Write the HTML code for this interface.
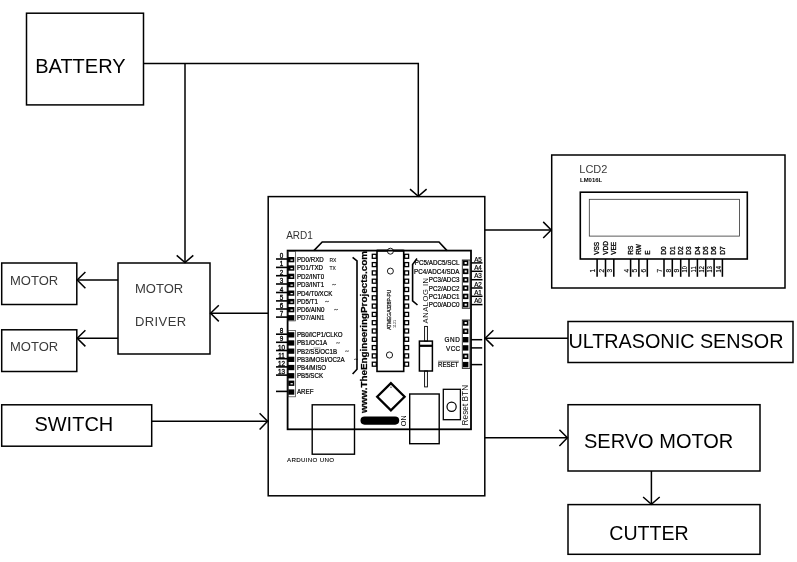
<!DOCTYPE html>
<html><head><meta charset="utf-8"><title>Block Diagram</title>
<style>
html,body{margin:0;padding:0;background:#fff;}
body{width:797px;height:562px;overflow:hidden;}
svg{display:block;font-family:"Liberation Sans",sans-serif;will-change:transform;}
</style></head><body>
<svg width="797" height="562" viewBox="0 0 797 562">
<rect width="797" height="562" fill="#fff"/>
<rect x="26.5" y="13.2" width="117.0" height="91.7" fill="none" stroke="#000" stroke-width="1.5"/>
<text x="35.2" y="73.2" font-size="20" fill="#000" font-weight="normal" text-anchor="start">BATTERY</text>
<rect x="118" y="263" width="92" height="91" fill="none" stroke="#000" stroke-width="1.5"/>
<text x="135" y="293" font-size="13" fill="#3a3a3a" font-weight="normal" text-anchor="start">MOTOR</text>
<text x="135" y="326.2" font-size="13" fill="#3a3a3a" font-weight="normal" text-anchor="start" letter-spacing="0.4">DRIVER</text>
<rect x="1.7" y="263" width="75.1" height="41.5" fill="none" stroke="#000" stroke-width="1.5"/>
<text x="10" y="284.6" font-size="13" fill="#3a3a3a" font-weight="normal" text-anchor="start">MOTOR</text>
<rect x="1.7" y="329.8" width="75.1" height="41.7" fill="none" stroke="#000" stroke-width="1.5"/>
<text x="10" y="351.4" font-size="13" fill="#3a3a3a" font-weight="normal" text-anchor="start">MOTOR</text>
<rect x="1.7" y="404.8" width="150.0" height="41.4" fill="none" stroke="#000" stroke-width="1.5"/>
<text x="34.4" y="431.3" font-size="20" fill="#000" font-weight="normal" text-anchor="start">SWITCH</text>
<rect x="268.2" y="196.6" width="216.6" height="299.2" fill="none" stroke="#000" stroke-width="1.5"/>
<rect x="551.7" y="155" width="233.3" height="133" fill="none" stroke="#000" stroke-width="1.5"/>
<rect x="568" y="321.5" width="225" height="41.0" fill="none" stroke="#000" stroke-width="1.5"/>
<text x="568.4" y="348.3" font-size="19.8" fill="#000" font-weight="normal" text-anchor="start">ULTRASONIC SENSOR</text>
<rect x="568" y="404.7" width="192" height="66.3" fill="none" stroke="#000" stroke-width="1.5"/>
<text x="584" y="448.2" font-size="20" fill="#000" font-weight="normal" text-anchor="start">SERVO MOTOR</text>
<rect x="568" y="504.6" width="192" height="49.7" fill="none" stroke="#000" stroke-width="1.5"/>
<text x="609.3" y="539.7" font-size="19.6" fill="#000" font-weight="normal" text-anchor="start">CUTTER</text>
<polyline points="143.5,63.4 418.3,63.4 418.3,196" fill="none" stroke="#000" stroke-width="1.5" stroke-linejoin="miter"/>
<polyline points="410.0,189.10000000000002 418.3,196.3 426.6,189.10000000000002" fill="none" stroke="#000" stroke-width="1.5" stroke-linejoin="miter"/>
<line x1="185" y1="63.4" x2="185" y2="262.5" stroke="#000" stroke-width="1.5" stroke-linecap="butt"/>
<polyline points="176.7,255.40000000000003 185,262.6 193.3,255.40000000000003" fill="none" stroke="#000" stroke-width="1.5" stroke-linejoin="miter"/>
<line x1="118" y1="280" x2="77.5" y2="280" stroke="#000" stroke-width="1.5" stroke-linecap="butt"/>
<polyline points="85.4,272.0 77.2,280 85.4,288.2" fill="none" stroke="#000" stroke-width="1.5" stroke-linejoin="miter"/>
<line x1="118" y1="338.2" x2="77.5" y2="338.2" stroke="#000" stroke-width="1.5" stroke-linecap="butt"/>
<polyline points="85.4,330.2 77.2,338.2 85.4,346.4" fill="none" stroke="#000" stroke-width="1.5" stroke-linejoin="miter"/>
<line x1="268" y1="313.2" x2="211" y2="313.2" stroke="#000" stroke-width="1.5" stroke-linecap="butt"/>
<polyline points="218.79999999999998,305.2 210.6,313.2 218.79999999999998,321.4" fill="none" stroke="#000" stroke-width="1.5" stroke-linejoin="miter"/>
<line x1="151.7" y1="421.3" x2="268" y2="421.3" stroke="#000" stroke-width="1.5" stroke-linecap="butt"/>
<polyline points="259.6,413.3 267.6,421.3 259.6,429.5" fill="none" stroke="#000" stroke-width="1.5" stroke-linejoin="miter"/>
<line x1="484.8" y1="229.9" x2="551" y2="229.9" stroke="#000" stroke-width="1.5" stroke-linecap="butt"/>
<polyline points="543.2,221.9 551.2,229.9 543.2,238.1" fill="none" stroke="#000" stroke-width="1.5" stroke-linejoin="miter"/>
<line x1="568" y1="338.2" x2="485.5" y2="338.2" stroke="#000" stroke-width="1.5" stroke-linecap="butt"/>
<polyline points="493.4,330.2 485.2,338.2 493.4,346.4" fill="none" stroke="#000" stroke-width="1.5" stroke-linejoin="miter"/>
<line x1="484.8" y1="437.8" x2="567" y2="437.8" stroke="#000" stroke-width="1.5" stroke-linecap="butt"/>
<polyline points="559.4,429.8 567.4,437.8 559.4,446.0" fill="none" stroke="#000" stroke-width="1.5" stroke-linejoin="miter"/>
<line x1="651.4" y1="471" x2="651.4" y2="504" stroke="#000" stroke-width="1.5" stroke-linecap="butt"/>
<polyline points="643.1,497.0 651.4,504.2 659.6999999999999,497.0" fill="none" stroke="#000" stroke-width="1.5" stroke-linejoin="miter"/>
<text x="579.3" y="172.9" font-size="11" fill="#3a3a3a" font-weight="normal" text-anchor="start">LCD2</text>
<text x="580" y="182" font-size="6.2" fill="#000" font-weight="bold" text-anchor="start" textLength="22.2" lengthAdjust="spacingAndGlyphs">LM016L</text>
<rect x="580.3" y="192.2" width="167.0" height="66.8" fill="none" stroke="#000" stroke-width="1.6"/>
<rect x="589.3" y="199.3" width="150.3" height="36.8" fill="none" stroke="#333" stroke-width="0.8"/>
<line x1="597.1" y1="259" x2="597.1" y2="276.8" stroke="#000" stroke-width="1.55" stroke-linecap="butt"/>
<text x="599.5" y="254.8" font-size="6.5" fill="#000" font-weight="normal" text-anchor="start" transform="rotate(-90 599.5 254.8)" stroke="#000" stroke-width="0.3">VSS</text>
<text x="595.4" y="272.4" font-size="6.5" fill="#000" font-weight="normal" text-anchor="start" transform="rotate(-90 595.4 272.4)" stroke="#000" stroke-width="0.15">1</text>
<line x1="605.5" y1="259" x2="605.5" y2="276.8" stroke="#000" stroke-width="1.55" stroke-linecap="butt"/>
<text x="607.9" y="254.8" font-size="6.5" fill="#000" font-weight="normal" text-anchor="start" transform="rotate(-90 607.9 254.8)" stroke="#000" stroke-width="0.3">VDD</text>
<text x="603.8" y="272.4" font-size="6.5" fill="#000" font-weight="normal" text-anchor="start" transform="rotate(-90 603.8 272.4)" stroke="#000" stroke-width="0.15">2</text>
<line x1="613.8" y1="259" x2="613.8" y2="276.8" stroke="#000" stroke-width="1.55" stroke-linecap="butt"/>
<text x="616.1999999999999" y="254.8" font-size="6.5" fill="#000" font-weight="normal" text-anchor="start" transform="rotate(-90 616.1999999999999 254.8)" stroke="#000" stroke-width="0.3">VEE</text>
<text x="612.0999999999999" y="272.4" font-size="6.5" fill="#000" font-weight="normal" text-anchor="start" transform="rotate(-90 612.0999999999999 272.4)" stroke="#000" stroke-width="0.15">3</text>
<line x1="630.6" y1="259" x2="630.6" y2="276.8" stroke="#000" stroke-width="1.55" stroke-linecap="butt"/>
<text x="633.0" y="254.8" font-size="6.5" fill="#000" font-weight="normal" text-anchor="start" transform="rotate(-90 633.0 254.8)" stroke="#000" stroke-width="0.3">RS</text>
<text x="628.9" y="272.4" font-size="6.5" fill="#000" font-weight="normal" text-anchor="start" transform="rotate(-90 628.9 272.4)" stroke="#000" stroke-width="0.15">4</text>
<line x1="638.9" y1="259" x2="638.9" y2="276.8" stroke="#000" stroke-width="1.55" stroke-linecap="butt"/>
<text x="641.3" y="254.8" font-size="6.5" fill="#000" font-weight="normal" text-anchor="start" transform="rotate(-90 641.3 254.8)" stroke="#000" stroke-width="0.3">RW</text>
<text x="637.1999999999999" y="272.4" font-size="6.5" fill="#000" font-weight="normal" text-anchor="start" transform="rotate(-90 637.1999999999999 272.4)" stroke="#000" stroke-width="0.15">5</text>
<line x1="647.3" y1="259" x2="647.3" y2="276.8" stroke="#000" stroke-width="1.55" stroke-linecap="butt"/>
<text x="649.6999999999999" y="254.8" font-size="6.5" fill="#000" font-weight="normal" text-anchor="start" transform="rotate(-90 649.6999999999999 254.8)" stroke="#000" stroke-width="0.3">E</text>
<text x="645.5999999999999" y="272.4" font-size="6.5" fill="#000" font-weight="normal" text-anchor="start" transform="rotate(-90 645.5999999999999 272.4)" stroke="#000" stroke-width="0.15">6</text>
<line x1="664" y1="259" x2="664" y2="276.8" stroke="#000" stroke-width="1.55" stroke-linecap="butt"/>
<text x="666.4" y="254.8" font-size="6.5" fill="#000" font-weight="normal" text-anchor="start" transform="rotate(-90 666.4 254.8)" stroke="#000" stroke-width="0.3">D0</text>
<text x="662.3" y="272.4" font-size="6.5" fill="#000" font-weight="normal" text-anchor="start" transform="rotate(-90 662.3 272.4)" stroke="#000" stroke-width="0.15">7</text>
<line x1="672.3" y1="259" x2="672.3" y2="276.8" stroke="#000" stroke-width="1.55" stroke-linecap="butt"/>
<text x="674.6999999999999" y="254.8" font-size="6.5" fill="#000" font-weight="normal" text-anchor="start" transform="rotate(-90 674.6999999999999 254.8)" stroke="#000" stroke-width="0.3">D1</text>
<text x="670.5999999999999" y="272.4" font-size="6.5" fill="#000" font-weight="normal" text-anchor="start" transform="rotate(-90 670.5999999999999 272.4)" stroke="#000" stroke-width="0.15">8</text>
<line x1="680.7" y1="259" x2="680.7" y2="276.8" stroke="#000" stroke-width="1.55" stroke-linecap="butt"/>
<text x="683.1" y="254.8" font-size="6.5" fill="#000" font-weight="normal" text-anchor="start" transform="rotate(-90 683.1 254.8)" stroke="#000" stroke-width="0.3">D2</text>
<text x="679.0" y="272.4" font-size="6.5" fill="#000" font-weight="normal" text-anchor="start" transform="rotate(-90 679.0 272.4)" stroke="#000" stroke-width="0.15">9</text>
<line x1="689" y1="259" x2="689" y2="276.8" stroke="#000" stroke-width="1.55" stroke-linecap="butt"/>
<text x="691.4" y="254.8" font-size="6.5" fill="#000" font-weight="normal" text-anchor="start" transform="rotate(-90 691.4 254.8)" stroke="#000" stroke-width="0.3">D3</text>
<text x="687.3" y="272.4" font-size="6.5" fill="#000" font-weight="normal" text-anchor="start" transform="rotate(-90 687.3 272.4)" stroke="#000" stroke-width="0.15" textLength="6.2" lengthAdjust="spacingAndGlyphs">10</text>
<line x1="697.4" y1="259" x2="697.4" y2="276.8" stroke="#000" stroke-width="1.55" stroke-linecap="butt"/>
<text x="699.8" y="254.8" font-size="6.5" fill="#000" font-weight="normal" text-anchor="start" transform="rotate(-90 699.8 254.8)" stroke="#000" stroke-width="0.3">D4</text>
<text x="695.6999999999999" y="272.4" font-size="6.5" fill="#000" font-weight="normal" text-anchor="start" transform="rotate(-90 695.6999999999999 272.4)" stroke="#000" stroke-width="0.15" textLength="6.2" lengthAdjust="spacingAndGlyphs">11</text>
<line x1="705.7" y1="259" x2="705.7" y2="276.8" stroke="#000" stroke-width="1.55" stroke-linecap="butt"/>
<text x="708.1" y="254.8" font-size="6.5" fill="#000" font-weight="normal" text-anchor="start" transform="rotate(-90 708.1 254.8)" stroke="#000" stroke-width="0.3">D5</text>
<text x="704.0" y="272.4" font-size="6.5" fill="#000" font-weight="normal" text-anchor="start" transform="rotate(-90 704.0 272.4)" stroke="#000" stroke-width="0.15" textLength="6.2" lengthAdjust="spacingAndGlyphs">12</text>
<line x1="714.1" y1="259" x2="714.1" y2="276.8" stroke="#000" stroke-width="1.55" stroke-linecap="butt"/>
<text x="716.5" y="254.8" font-size="6.5" fill="#000" font-weight="normal" text-anchor="start" transform="rotate(-90 716.5 254.8)" stroke="#000" stroke-width="0.3">D6</text>
<text x="712.4" y="272.4" font-size="6.5" fill="#000" font-weight="normal" text-anchor="start" transform="rotate(-90 712.4 272.4)" stroke="#000" stroke-width="0.15" textLength="6.2" lengthAdjust="spacingAndGlyphs">13</text>
<line x1="722.4" y1="259" x2="722.4" y2="276.8" stroke="#000" stroke-width="1.55" stroke-linecap="butt"/>
<text x="724.8" y="254.8" font-size="6.5" fill="#000" font-weight="normal" text-anchor="start" transform="rotate(-90 724.8 254.8)" stroke="#000" stroke-width="0.3">D7</text>
<text x="720.6999999999999" y="272.4" font-size="6.5" fill="#000" font-weight="normal" text-anchor="start" transform="rotate(-90 720.6999999999999 272.4)" stroke="#000" stroke-width="0.15" textLength="6.2" lengthAdjust="spacingAndGlyphs">14</text>
<text x="286.2" y="239" font-size="10" fill="#333" font-weight="normal" text-anchor="start">ARD1</text>
<rect x="287.6" y="250.6" width="183.4" height="178.7" fill="none" stroke="#000" stroke-width="1.8"/>
<polyline points="313.9,250.6 322.2,242 439,242 447,250.6" fill="none" stroke="#000" stroke-width="1.6" stroke-linejoin="miter"/>
<rect x="288" y="251.5" width="7.6" height="69.4" fill="none" stroke="#333" stroke-width="0.7"/>
<rect x="288" y="330.6" width="7.6" height="66.2" fill="none" stroke="#333" stroke-width="0.7"/>
<line x1="276" y1="259.0" x2="287.6" y2="259.0" stroke="#000" stroke-width="1.6" stroke-linecap="butt"/>
<rect x="287.6" y="257.0" width="6.7" height="5.3" fill="#000" stroke="#000" stroke-width="0"/>
<rect x="290.5" y="259.5" width="2.3" height="1.3" fill="#eee" stroke="#000" stroke-width="0"/>
<text x="281.6" y="258.0" font-size="6.3" fill="#000" font-weight="normal" text-anchor="middle" stroke="#000" stroke-width="0.3">0</text>
<text transform="translate(297 262.0) scale(0.87 1)" font-size="7.1" fill="#000" font-weight="normal" text-anchor="start" stroke="#000" stroke-width="0.22">PD0/RXD</text>
<line x1="276" y1="267.4" x2="287.6" y2="267.4" stroke="#000" stroke-width="1.6" stroke-linecap="butt"/>
<rect x="287.6" y="265.4" width="6.7" height="5.3" fill="#000" stroke="#000" stroke-width="0"/>
<rect x="290.5" y="267.9" width="2.3" height="1.3" fill="#eee" stroke="#000" stroke-width="0"/>
<text x="281.6" y="266.4" font-size="6.3" fill="#000" font-weight="normal" text-anchor="middle" stroke="#000" stroke-width="0.3">1</text>
<text transform="translate(297 270.4) scale(0.87 1)" font-size="7.1" fill="#000" font-weight="normal" text-anchor="start" stroke="#000" stroke-width="0.22">PD1/TXD</text>
<line x1="276" y1="275.7" x2="287.6" y2="275.7" stroke="#000" stroke-width="1.6" stroke-linecap="butt"/>
<rect x="287.6" y="273.7" width="6.7" height="5.3" fill="#000" stroke="#000" stroke-width="0"/>
<rect x="290.5" y="276.2" width="2.3" height="1.3" fill="#eee" stroke="#000" stroke-width="0"/>
<text x="281.6" y="274.7" font-size="6.3" fill="#000" font-weight="normal" text-anchor="middle" stroke="#000" stroke-width="0.3">2</text>
<text transform="translate(297 278.7) scale(0.87 1)" font-size="7.1" fill="#000" font-weight="normal" text-anchor="start" stroke="#000" stroke-width="0.22">PD2/INT0</text>
<line x1="276" y1="284.0" x2="287.6" y2="284.0" stroke="#000" stroke-width="1.6" stroke-linecap="butt"/>
<rect x="287.6" y="282.0" width="6.7" height="5.3" fill="#000" stroke="#000" stroke-width="0"/>
<rect x="290.5" y="284.5" width="2.3" height="1.3" fill="#eee" stroke="#000" stroke-width="0"/>
<text x="281.6" y="283.0" font-size="6.3" fill="#000" font-weight="normal" text-anchor="middle" stroke="#000" stroke-width="0.3">3</text>
<text transform="translate(297 287.0) scale(0.87 1)" font-size="7.1" fill="#000" font-weight="normal" text-anchor="start" stroke="#000" stroke-width="0.22">PD3/INT1</text>
<line x1="276" y1="292.5" x2="287.6" y2="292.5" stroke="#000" stroke-width="1.6" stroke-linecap="butt"/>
<rect x="287.6" y="290.5" width="6.7" height="5.3" fill="#000" stroke="#000" stroke-width="0"/>
<rect x="290.5" y="293.0" width="2.3" height="1.3" fill="#eee" stroke="#000" stroke-width="0"/>
<text x="281.6" y="291.5" font-size="6.3" fill="#000" font-weight="normal" text-anchor="middle" stroke="#000" stroke-width="0.3">4</text>
<text transform="translate(297 295.5) scale(0.87 1)" font-size="7.1" fill="#000" font-weight="normal" text-anchor="start" stroke="#000" stroke-width="0.22">PD4/T0/XCK</text>
<line x1="276" y1="300.9" x2="287.6" y2="300.9" stroke="#000" stroke-width="1.6" stroke-linecap="butt"/>
<rect x="287.6" y="298.9" width="6.7" height="5.3" fill="#000" stroke="#000" stroke-width="0"/>
<rect x="290.5" y="301.4" width="2.3" height="1.3" fill="#eee" stroke="#000" stroke-width="0"/>
<text x="281.6" y="299.9" font-size="6.3" fill="#000" font-weight="normal" text-anchor="middle" stroke="#000" stroke-width="0.3">5</text>
<text transform="translate(297 303.9) scale(0.87 1)" font-size="7.1" fill="#000" font-weight="normal" text-anchor="start" stroke="#000" stroke-width="0.22">PD5/T1</text>
<line x1="276" y1="309.0" x2="287.6" y2="309.0" stroke="#000" stroke-width="1.6" stroke-linecap="butt"/>
<rect x="287.6" y="307.0" width="6.7" height="5.3" fill="#000" stroke="#000" stroke-width="0"/>
<rect x="290.5" y="309.5" width="2.3" height="1.3" fill="#eee" stroke="#000" stroke-width="0"/>
<text x="281.6" y="308.0" font-size="6.3" fill="#000" font-weight="normal" text-anchor="middle" stroke="#000" stroke-width="0.3">6</text>
<text transform="translate(297 312.0) scale(0.87 1)" font-size="7.1" fill="#000" font-weight="normal" text-anchor="start" stroke="#000" stroke-width="0.22">PD6/AIN0</text>
<line x1="276" y1="317.09999999999997" x2="287.6" y2="317.09999999999997" stroke="#000" stroke-width="1.6" stroke-linecap="butt"/>
<rect x="287.6" y="315.09999999999997" width="6.7" height="5.3" fill="#000" stroke="#000" stroke-width="0"/>
<text x="281.6" y="316.09999999999997" font-size="6.3" fill="#000" font-weight="normal" text-anchor="middle" stroke="#000" stroke-width="0.3">7</text>
<text transform="translate(297 320.09999999999997) scale(0.87 1)" font-size="7.1" fill="#000" font-weight="normal" text-anchor="start" stroke="#000" stroke-width="0.22">PD7/AIN1</text>
<line x1="276" y1="334.2" x2="287.6" y2="334.2" stroke="#000" stroke-width="1.6" stroke-linecap="butt"/>
<rect x="287.6" y="332.2" width="6.7" height="5.3" fill="#000" stroke="#000" stroke-width="0"/>
<text x="281.6" y="333.2" font-size="6.3" fill="#000" font-weight="normal" text-anchor="middle" stroke="#000" stroke-width="0.3">8</text>
<text transform="translate(297 337.2) scale(0.87 1)" font-size="7.1" fill="#000" font-weight="normal" text-anchor="start" stroke="#000" stroke-width="0.22">PB0/ICP1/CLKO</text>
<line x1="276" y1="342.29999999999995" x2="287.6" y2="342.29999999999995" stroke="#000" stroke-width="1.6" stroke-linecap="butt"/>
<rect x="287.6" y="340.29999999999995" width="6.7" height="5.3" fill="#000" stroke="#000" stroke-width="0"/>
<text x="281.6" y="341.29999999999995" font-size="6.3" fill="#000" font-weight="normal" text-anchor="middle" stroke="#000" stroke-width="0.3">9</text>
<text transform="translate(297 345.29999999999995) scale(0.87 1)" font-size="7.1" fill="#000" font-weight="normal" text-anchor="start" stroke="#000" stroke-width="0.22">PB1/OC1A</text>
<line x1="276" y1="350.5" x2="287.6" y2="350.5" stroke="#000" stroke-width="1.6" stroke-linecap="butt"/>
<rect x="287.6" y="348.5" width="6.7" height="5.3" fill="#000" stroke="#000" stroke-width="0"/>
<text x="281.6" y="349.5" font-size="6.3" fill="#000" font-weight="normal" text-anchor="middle" stroke="#000" stroke-width="0.3">10</text>
<text transform="translate(297 353.5) scale(0.87 1)" font-size="7.1" fill="#000" font-weight="normal" text-anchor="start" stroke="#000" stroke-width="0.22">PB2/SS/OC1B</text>
<line x1="276" y1="358.7" x2="287.6" y2="358.7" stroke="#000" stroke-width="1.6" stroke-linecap="butt"/>
<rect x="287.6" y="356.7" width="6.7" height="5.3" fill="#000" stroke="#000" stroke-width="0"/>
<text x="281.6" y="357.7" font-size="6.3" fill="#000" font-weight="normal" text-anchor="middle" stroke="#000" stroke-width="0.3">11</text>
<text transform="translate(297 361.7) scale(0.87 1)" font-size="7.1" fill="#000" font-weight="normal" text-anchor="start" stroke="#000" stroke-width="0.22">PB3/MOSI/OC2A</text>
<line x1="276" y1="366.9" x2="287.6" y2="366.9" stroke="#000" stroke-width="1.6" stroke-linecap="butt"/>
<rect x="287.6" y="364.9" width="6.7" height="5.3" fill="#000" stroke="#000" stroke-width="0"/>
<text x="281.6" y="365.9" font-size="6.3" fill="#000" font-weight="normal" text-anchor="middle" stroke="#000" stroke-width="0.3">12</text>
<text transform="translate(297 369.9) scale(0.87 1)" font-size="7.1" fill="#000" font-weight="normal" text-anchor="start" stroke="#000" stroke-width="0.22">PB4/MISO</text>
<line x1="276" y1="375.09999999999997" x2="287.6" y2="375.09999999999997" stroke="#000" stroke-width="1.6" stroke-linecap="butt"/>
<rect x="287.6" y="373.09999999999997" width="6.7" height="5.3" fill="#000" stroke="#000" stroke-width="0"/>
<text x="281.6" y="374.09999999999997" font-size="6.3" fill="#000" font-weight="normal" text-anchor="middle" stroke="#000" stroke-width="0.3">13</text>
<text transform="translate(297 378.09999999999997) scale(0.87 1)" font-size="7.1" fill="#000" font-weight="normal" text-anchor="start" stroke="#000" stroke-width="0.22">PB5/SCK</text>
<path d="M332 285.20000000000005 q1 -1.6 2 -0.6 t2 -0.6" fill="none" stroke="#222" stroke-width="0.7"/>
<path d="M325 302.1 q1 -1.6 2 -0.6 t2 -0.6" fill="none" stroke="#222" stroke-width="0.7"/>
<path d="M334 310.20000000000005 q1 -1.6 2 -0.6 t2 -0.6" fill="none" stroke="#222" stroke-width="0.7"/>
<path d="M336 343.5 q1 -1.6 2 -0.6 t2 -0.6" fill="none" stroke="#222" stroke-width="0.7"/>
<path d="M345 351.70000000000005 q1 -1.6 2 -0.6 t2 -0.6" fill="none" stroke="#222" stroke-width="0.7"/>
<path d="M354 359.90000000000003 q1 -1.6 2 -0.6 t2 -0.6" fill="none" stroke="#222" stroke-width="0.7"/>
<text x="329.5" y="261.8" font-size="5" fill="#333" font-weight="bold" text-anchor="start">RX</text>
<text x="329.5" y="270.2" font-size="5" fill="#333" font-weight="bold" text-anchor="start">TX</text>
<line x1="313.5" y1="348" x2="320.5" y2="348" stroke="#333" stroke-width="0.5" stroke-linecap="butt"/>
<rect x="288.3" y="380.59999999999997" width="6.0" height="5.3" fill="#000" stroke="#000" stroke-width="0"/>
<rect x="290.5" y="383.1" width="2.3" height="1.3" fill="#eee" stroke="#000" stroke-width="0"/>
<line x1="276" y1="391.4" x2="287.6" y2="391.4" stroke="#000" stroke-width="1.6" stroke-linecap="butt"/>
<rect x="288.3" y="389.4" width="6.0" height="5.3" fill="#000" stroke="#000" stroke-width="0"/>
<text transform="translate(297 394.4) scale(0.87 1)" font-size="7.1" fill="#000" font-weight="normal" text-anchor="start" stroke="#000" stroke-width="0.22">AREF</text>
<polyline points="352.6,257.3 357,260.9 357,369.2 352.6,374" fill="none" stroke="#000" stroke-width="1.6" stroke-linejoin="miter"/>
<text x="367.3" y="413" font-size="9.3" fill="#000" font-weight="bold" text-anchor="start" transform="rotate(-90 367.3 413)" textLength="162" lengthAdjust="spacingAndGlyphs" stroke="#000" stroke-width="0.25">www.TheEngineeringProjects.com</text>
<rect x="377" y="250.6" width="26.7" height="120.8" fill="none" stroke="#000" stroke-width="1.6"/>
<circle cx="390.4" cy="251.2" r="3" fill="#fff" stroke="#000" stroke-width="0.9"/>
<line x1="377" y1="250.6" x2="403.7" y2="250.6" stroke="#000" stroke-width="1.8" stroke-linecap="butt"/>
<circle cx="390.4" cy="271.1" r="3" fill="#fff" stroke="#000" stroke-width="0.9"/>
<circle cx="389.5" cy="355" r="3.1" fill="#fff" stroke="#000" stroke-width="0.9"/>
<rect x="372.3" y="254.3" width="4.0" height="4.0" fill="none" stroke="#000" stroke-width="1.3"/>
<rect x="404.6" y="254.3" width="4.0" height="4.0" fill="none" stroke="#000" stroke-width="1.3"/>
<rect x="372.3" y="262.6" width="4.0" height="4.0" fill="none" stroke="#000" stroke-width="1.3"/>
<rect x="404.6" y="262.6" width="4.0" height="4.0" fill="none" stroke="#000" stroke-width="1.3"/>
<rect x="372.3" y="270.90000000000003" width="4.0" height="4.0" fill="none" stroke="#000" stroke-width="1.3"/>
<rect x="404.6" y="270.90000000000003" width="4.0" height="4.0" fill="none" stroke="#000" stroke-width="1.3"/>
<rect x="372.3" y="279.2" width="4.0" height="4.0" fill="none" stroke="#000" stroke-width="1.3"/>
<rect x="404.6" y="279.2" width="4.0" height="4.0" fill="none" stroke="#000" stroke-width="1.3"/>
<rect x="372.3" y="287.5" width="4.0" height="4.0" fill="none" stroke="#000" stroke-width="1.3"/>
<rect x="404.6" y="287.5" width="4.0" height="4.0" fill="none" stroke="#000" stroke-width="1.3"/>
<rect x="372.3" y="295.8" width="4.0" height="4.0" fill="none" stroke="#000" stroke-width="1.3"/>
<rect x="404.6" y="295.8" width="4.0" height="4.0" fill="none" stroke="#000" stroke-width="1.3"/>
<rect x="372.3" y="304.1" width="4.0" height="4.0" fill="none" stroke="#000" stroke-width="1.3"/>
<rect x="404.6" y="304.1" width="4.0" height="4.0" fill="none" stroke="#000" stroke-width="1.3"/>
<rect x="372.3" y="312.40000000000003" width="4.0" height="4.0" fill="none" stroke="#000" stroke-width="1.3"/>
<rect x="404.6" y="312.40000000000003" width="4.0" height="4.0" fill="none" stroke="#000" stroke-width="1.3"/>
<rect x="372.3" y="320.70000000000005" width="4.0" height="4.0" fill="none" stroke="#000" stroke-width="1.3"/>
<rect x="404.6" y="320.70000000000005" width="4.0" height="4.0" fill="none" stroke="#000" stroke-width="1.3"/>
<rect x="372.3" y="329.0" width="4.0" height="4.0" fill="none" stroke="#000" stroke-width="1.3"/>
<rect x="404.6" y="329.0" width="4.0" height="4.0" fill="none" stroke="#000" stroke-width="1.3"/>
<rect x="372.3" y="337.3" width="4.0" height="4.0" fill="none" stroke="#000" stroke-width="1.3"/>
<rect x="404.6" y="337.3" width="4.0" height="4.0" fill="none" stroke="#000" stroke-width="1.3"/>
<rect x="372.3" y="345.6" width="4.0" height="4.0" fill="none" stroke="#000" stroke-width="1.3"/>
<rect x="404.6" y="345.6" width="4.0" height="4.0" fill="none" stroke="#000" stroke-width="1.3"/>
<rect x="372.3" y="353.90000000000003" width="4.0" height="4.0" fill="none" stroke="#000" stroke-width="1.3"/>
<rect x="404.6" y="353.90000000000003" width="4.0" height="4.0" fill="none" stroke="#000" stroke-width="1.3"/>
<rect x="372.3" y="362.20000000000005" width="4.0" height="4.0" fill="none" stroke="#000" stroke-width="1.3"/>
<rect x="404.6" y="362.20000000000005" width="4.0" height="4.0" fill="none" stroke="#000" stroke-width="1.3"/>
<text x="390.6" y="329.8" font-size="4.8" fill="#111" font-weight="normal" text-anchor="start" transform="rotate(-90 390.6 329.8)" textLength="40" lengthAdjust="spacingAndGlyphs" stroke="#111" stroke-width="0.2">ATMEGA328P-PU</text>
<text x="395.6" y="328" font-size="3.8" fill="#222" font-weight="normal" text-anchor="start" transform="rotate(-90 395.6 328)">1121</text>
<rect x="462.3" y="260" width="7.7" height="48.3" fill="none" stroke="#222" stroke-width="0.9"/>
<line x1="471.0" y1="262.9" x2="482.5" y2="262.9" stroke="#000" stroke-width="1.5" stroke-linecap="butt"/>
<rect x="462.9" y="260.3" width="5.5" height="5.4" fill="#000" stroke="#000" stroke-width="0"/>
<rect x="464.6" y="262" width="2.2" height="2" fill="#f4f4f4" stroke="#000" stroke-width="0"/>
<text x="478" y="261.6" font-size="6.3" fill="#000" font-weight="normal" text-anchor="middle" stroke="#000" stroke-width="0.2">A5</text>
<text transform="translate(459.4 265.4) scale(0.885 1)" font-size="7.1" fill="#000" font-weight="normal" text-anchor="end" stroke="#000" stroke-width="0.22">PC5/ADC5/SCL</text>
<line x1="471.0" y1="271.29999999999995" x2="482.5" y2="271.29999999999995" stroke="#000" stroke-width="1.5" stroke-linecap="butt"/>
<rect x="462.9" y="268.7" width="5.5" height="5.4" fill="#000" stroke="#000" stroke-width="0"/>
<rect x="464.6" y="270.4" width="2.2" height="2.0" fill="#f4f4f4" stroke="#000" stroke-width="0"/>
<text x="478" y="270.0" font-size="6.3" fill="#000" font-weight="normal" text-anchor="middle" stroke="#000" stroke-width="0.2">A4</text>
<text transform="translate(459.4 273.79999999999995) scale(0.885 1)" font-size="7.1" fill="#000" font-weight="normal" text-anchor="end" stroke="#000" stroke-width="0.22">PC4/ADC4/SDA</text>
<line x1="471.0" y1="279.7" x2="482.5" y2="279.7" stroke="#000" stroke-width="1.5" stroke-linecap="butt"/>
<rect x="462.9" y="277.1" width="5.5" height="5.4" fill="#000" stroke="#000" stroke-width="0"/>
<rect x="464.6" y="278.8" width="2.2" height="2.0" fill="#f4f4f4" stroke="#000" stroke-width="0"/>
<text x="478" y="278.40000000000003" font-size="6.3" fill="#000" font-weight="normal" text-anchor="middle" stroke="#000" stroke-width="0.2">A3</text>
<text transform="translate(459.4 282.2) scale(0.885 1)" font-size="7.1" fill="#000" font-weight="normal" text-anchor="end" stroke="#000" stroke-width="0.22">PC3/ADC3</text>
<line x1="471.0" y1="288.0" x2="482.5" y2="288.0" stroke="#000" stroke-width="1.5" stroke-linecap="butt"/>
<rect x="462.9" y="285.40000000000003" width="5.5" height="5.4" fill="#000" stroke="#000" stroke-width="0"/>
<rect x="464.6" y="287.1" width="2.2" height="2.0" fill="#f4f4f4" stroke="#000" stroke-width="0"/>
<text x="478" y="286.70000000000005" font-size="6.3" fill="#000" font-weight="normal" text-anchor="middle" stroke="#000" stroke-width="0.2">A2</text>
<text transform="translate(459.4 290.5) scale(0.885 1)" font-size="7.1" fill="#000" font-weight="normal" text-anchor="end" stroke="#000" stroke-width="0.22">PC2/ADC2</text>
<line x1="471.0" y1="296.29999999999995" x2="482.5" y2="296.29999999999995" stroke="#000" stroke-width="1.5" stroke-linecap="butt"/>
<rect x="462.9" y="293.7" width="5.5" height="5.4" fill="#000" stroke="#000" stroke-width="0"/>
<rect x="464.6" y="295.4" width="2.2" height="2.0" fill="#f4f4f4" stroke="#000" stroke-width="0"/>
<text x="478" y="295.0" font-size="6.3" fill="#000" font-weight="normal" text-anchor="middle" stroke="#000" stroke-width="0.2">A1</text>
<text transform="translate(459.4 298.79999999999995) scale(0.885 1)" font-size="7.1" fill="#000" font-weight="normal" text-anchor="end" stroke="#000" stroke-width="0.22">PC1/ADC1</text>
<line x1="471.0" y1="304.59999999999997" x2="482.5" y2="304.59999999999997" stroke="#000" stroke-width="1.5" stroke-linecap="butt"/>
<rect x="462.9" y="302.0" width="5.5" height="5.4" fill="#000" stroke="#000" stroke-width="0"/>
<rect x="464.6" y="303.7" width="2.2" height="2.0" fill="#f4f4f4" stroke="#000" stroke-width="0"/>
<text x="478" y="303.3" font-size="6.3" fill="#000" font-weight="normal" text-anchor="middle" stroke="#000" stroke-width="0.2">A0</text>
<text transform="translate(459.4 307.09999999999997) scale(0.885 1)" font-size="7.1" fill="#000" font-weight="normal" text-anchor="end" stroke="#000" stroke-width="0.22">PC0/ADC0</text>
<polyline points="417,258.6 412.6,264.4 412.6,300.8 417.5,305" fill="none" stroke="#000" stroke-width="1.6" stroke-linejoin="miter"/>
<text x="427.9" y="323.4" font-size="7.6" fill="#111" font-weight="normal" text-anchor="start" transform="rotate(-90 427.9 323.4)" textLength="45.5" lengthAdjust="spacing">ANALOG IN</text>
<rect x="462.3" y="320" width="7.7" height="48.4" fill="none" stroke="#222" stroke-width="0.9"/>
<rect x="462.9" y="320.3" width="5.5" height="5.4" fill="#000" stroke="#000" stroke-width="0"/>
<rect x="464.6" y="322" width="2.2" height="2" fill="#f4f4f4" stroke="#000" stroke-width="0"/>
<rect x="462.9" y="328.6" width="5.5" height="5.4" fill="#000" stroke="#000" stroke-width="0"/>
<rect x="464.6" y="330.3" width="2.2" height="2.0" fill="#f4f4f4" stroke="#000" stroke-width="0"/>
<rect x="462.9" y="337.0" width="5.5" height="5.4" fill="#000" stroke="#000" stroke-width="0"/>
<rect x="462.9" y="345.2" width="5.5" height="5.4" fill="#000" stroke="#000" stroke-width="0"/>
<rect x="462.9" y="353.6" width="5.5" height="5.4" fill="#000" stroke="#000" stroke-width="0"/>
<rect x="464.6" y="355.3" width="2.2" height="2.0" fill="#f4f4f4" stroke="#000" stroke-width="0"/>
<rect x="462.9" y="361.90000000000003" width="5.5" height="5.4" fill="#000" stroke="#000" stroke-width="0"/>
<line x1="471.0" y1="339.7" x2="482.2" y2="339.7" stroke="#000" stroke-width="1.5" stroke-linecap="butt"/>
<line x1="471.0" y1="347.9" x2="482.2" y2="347.9" stroke="#000" stroke-width="1.5" stroke-linecap="butt"/>
<line x1="471.0" y1="364.6" x2="482.2" y2="364.6" stroke="#000" stroke-width="1.5" stroke-linecap="butt"/>
<text transform="translate(460.4 342.1) scale(0.9 1)" font-size="7.1" fill="#000" font-weight="normal" text-anchor="end" stroke="#000" stroke-width="0.22" letter-spacing="0.6">GND</text>
<text transform="translate(460.4 350.7) scale(0.9 1)" font-size="7.1" fill="#000" font-weight="normal" text-anchor="end" stroke="#000" stroke-width="0.22" letter-spacing="0.3">VCC</text>
<text transform="translate(458.6 367.1) scale(0.87 1)" font-size="7.1" fill="#000" font-weight="normal" text-anchor="end" stroke="#000" stroke-width="0.22">RESET</text>
<line x1="438" y1="361.2" x2="459" y2="361.2" stroke="#333" stroke-width="0.6" stroke-linecap="butt"/>
<rect x="424.6" y="326.4" width="2.8" height="14.7" fill="none" stroke="#000" stroke-width="0.9"/>
<rect x="419.4" y="341.1" width="13.0" height="29.9" fill="none" stroke="#000" stroke-width="1.5"/>
<line x1="419" y1="345.8" x2="432.8" y2="345.8" stroke="#000" stroke-width="2.2" stroke-linecap="butt"/>
<rect x="424.6" y="371" width="2.8" height="15.9" fill="none" stroke="#000" stroke-width="0.9"/>
<polyline points="390.9,383.2 404.6,396.8 390.9,410.4 377.2,396.8 390.9,383.2 404.6,396.8" fill="none" stroke="#000" stroke-width="2.3" stroke-linejoin="miter"/>
<circle cx="391" cy="387.2" r="0.7" fill="#333"/>
<rect x="312.2" y="404.8" width="42.3" height="49.4" fill="none" stroke="#000" stroke-width="1.4"/>
<rect x="409.7" y="394" width="29.5" height="49.7" fill="none" stroke="#000" stroke-width="1.4"/>
<rect x="443.3" y="389.3" width="17.1" height="30.4" fill="none" stroke="#000" stroke-width="1.3"/>
<circle cx="451.6" cy="406.7" r="4.6" fill="#fff" stroke="#000" stroke-width="1.2"/>
<text x="468.3" y="425.4" font-size="8.3" fill="#111" font-weight="normal" text-anchor="start" transform="rotate(-90 468.3 425.4)">Reset BTN</text>
<rect x="360.5" y="416.4" width="38.7" height="8.3" rx="4.1" fill="#000"/>
<text x="405.7" y="426.2" font-size="7.2" fill="#000" font-weight="normal" text-anchor="start" transform="rotate(-90 405.7 426.2)">ON</text>
<text x="287" y="462" font-size="6.2" fill="#000" font-weight="normal" text-anchor="start" letter-spacing="0.3" stroke="#000" stroke-width="0.1">ARDUINO UNO</text>
</svg>
</body></html>
